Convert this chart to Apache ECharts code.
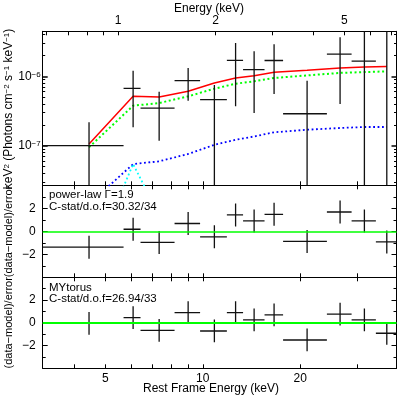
<!DOCTYPE html>
<html>
<head>
<meta charset="utf-8">
<script src="https://cdn.jsdelivr.net/npm/echarts@6/dist/echarts.min.js"></script>
<style>
  html, body { margin: 0; padding: 0; background: #fff; }
  #chart { width: 400px; height: 396px; }
</style>
</head>
<body>
<div id="chart"></div>
<script>
// rest frame energy bins (keV)
const binCen = [4.45, 6.09, 7.33, 9.01, 10.86, 12.63, 14.41, 16.61, 21.01, 26.57, 31.59, 37.05]
const binLo  = [3.2, 5.69, 6.42, 8.18, 9.81, 11.87, 13.32, 15.52, 17.71, 24.19, 28.84, 34.28]
const binHi  = [5.69, 6.42, 8.18, 9.81, 11.87, 13.32, 15.52, 17.71, 24.19, 28.84, 34.28, 39.7]

// unfolded spectrum, keV^2 (Photons cm^-2 s^-1 keV^-1)
const flux   = [1.0e-7, 6.71e-7, 3.49e-7, 8.65e-7, 4.6e-7, 1.70e-6, 1.25e-6, 1.69e-6, 2.89e-7, 2.09e-6, 1.66e-6, 6e-6]
const fluxLo = [1e-9, 1.84e-7, 1.18e-7, 4.45e-7, 1e-9, 3.7e-7, 2.96e-7, 5.56e-7, 1e-9, 3.99e-7, 1e-9, 1e-9]
const fluxHi = [2.17e-7, 1.2e-6, 6.0e-7, 1.32e-6, 7.5e-7, 3.02e-6, 2.29e-6, 2.89e-6, 8.64e-7, 3.65e-6, 1e-5, 1e-4]

// model components at bin centres
const modelTotal = [1.06e-7, 5.15e-7, 5.03e-7, 6.08e-7, 8.0e-7, 9.45e-7, 1.02e-6, 1.14e-6, 1.22e-6, 1.32e-6, 1.36e-6, 1.39e-6]
const modelPow   = [9.5e-8, 3.77e-7, 4.12e-7, 5.15e-7, 6.63e-7, 7.82e-7, 8.47e-7, 9.45e-7, 1.03e-6, 1.12e-6, 1.15e-6, 1.18e-6]
const modelScat  = [1.45e-8, 5.44e-8, 5.96e-8, 7.6e-8, 1.03e-7, 1.22e-7, 1.36e-7, 1.56e-7, 1.70e-7, 1.80e-7, 1.86e-7, 1.86e-7]
const modelLine  = [1.7e-9, 5.44e-8, 1.0e-8]

// residuals (data-model)/error
const resPow = [-1.38, 0.18, -0.97, 0.68, -0.48, 1.42, 0.9, 1.48, -0.88, 1.68, 0.9, -0.92]
const resMyt = [-0.05, 0.45, -0.66, 0.89, -0.72, 0.89, 0.25, 0.69, -1.51, 0.77, 0.25, -0.92]
const resErr = [1, 1, 1, 1, 1, 1, 1, 1, 1, 1, 1, 1]

// axes
const zFactor = 5.473
const xMin = 3.2, xMax = 39.7
const yMin = 2.69e-8, yMax = 4.45e-6
const restTicks = [4, 5, 6, 7, 8, 9, 10, 20, 30]
const restLabels = [5, 10, 20]
const obsTicks = [0.6, 0.7, 0.8, 0.9, 1, 2, 3, 4, 5, 6, 7]
const obsLabels = [1, 2, 5]
const fluxMajor = [1e-7, 1e-6]
const fluxMinor = [3e-8, 4e-8, 5e-8, 6e-8, 7e-8, 8e-8, 9e-8,
  2e-7, 3e-7, 4e-7, 5e-7, 6e-7, 7e-7, 8e-7, 9e-7, 2e-6, 3e-6, 4e-6]

const font = 'Liberation Sans, Arial, Helvetica, sans-serif'
const black = '#000'

const chart = echarts.init(document.getElementById('chart'))

// cross shaped error bar, clipped to the panel
function crossItem(params, api) {
  const cs = params.coordSys
  const cx = v => Math.max(cs.x, Math.min(cs.x + cs.width, v))
  const cy = v => Math.max(cs.y, Math.min(cs.y + cs.height, v))
  const c = api.coord([api.value(0), api.value(1)])
  const l = api.coord([api.value(2), api.value(1)])
  const r = api.coord([api.value(3), api.value(1)])
  const lo = api.coord([api.value(0), api.value(4)])
  const hi = api.coord([api.value(0), api.value(5)])
  const style = { stroke: '#111', lineWidth: 1.3 }
  const children = []
  if (c[1] >= cs.y && c[1] <= cs.y + cs.height) {
    children.push({ type: 'line', shape: { x1: cx(l[0]), y1: c[1], x2: cx(r[0]), y2: c[1] }, style })
  }
  children.push({ type: 'line', shape: { x1: c[0], y1: cy(hi[1]), x2: c[0], y2: cy(lo[1]) }, style })
  return { type: 'group', children }
}

const fluxData = binCen.map((e, i) => [e, flux[i], binLo[i], binHi[i], fluxLo[i], fluxHi[i]])
const resData = res => binCen.map((e, i) => [e, res[i], binLo[i], binHi[i], res[i] - resErr[i], res[i] + resErr[i]])
const curve = arr => arr.map((v, i) => [binCen[i], v])

const tickStyle = { lineStyle: { color: black, width: 1 } }
const lineStyle = { show: true, onZero: false, lineStyle: { color: black, width: 1 } }
const labelStyle = { color: black, fontFamily: font, fontSize: 12 }
const supRich = {
  t: { fontFamily: font, fontSize: 12, color: black },
  s: { fontFamily: font, fontSize: 8, color: black, verticalAlign: 'top', lineHeight: 9 }
}

function restAxis(grid, position, withLabels) {
  return {
    type: 'log', gridIndex: grid, position, min: xMin, max: xMax,
    axisLine: lineStyle,
    axisTick: { inside: true, length: 4, customValues: restTicks, ...tickStyle },
    axisLabel: withLabels
      ? { ...labelStyle, margin: 4, customValues: restLabels, formatter: v => String(v) }
      : { show: false },
    splitLine: { show: false }
  }
}

function fluxAxis(position, major) {
  return {
    type: 'log', gridIndex: 0, position, min: yMin, max: yMax,
    axisLine: major ? lineStyle : { show: false },
    axisTick: major
      ? { inside: true, length: 5, customValues: fluxMajor, lineStyle: { color: black, width: 1.5 } }
      : { inside: true, length: 2.5, customValues: fluxMinor, ...tickStyle },
    axisLabel: { show: false },
    splitLine: { show: false }
  }
}

function resAxis(grid, position, withLabels) {
  return {
    type: 'value', gridIndex: grid, position, min: -4, max: 4, interval: 2,
    axisLine: lineStyle,
    axisTick: { inside: true, length: 5, ...tickStyle },
    minorTick: { show: true, splitNumber: 2, length: 3, lineStyle: { color: black } },
    axisLabel: withLabels
      ? { ...labelStyle, margin: 7, showMinLabel: false, showMaxLabel: false,
          formatter: v => (v < 0 ? '\u2212' + (-v) : String(v)) }
      : { show: false },
    splitLine: { show: false }
  }
}

const topFluxLeft = fluxAxis('left', true)
topFluxLeft.axisLabel = {
  ...labelStyle, margin: 2, customValues: fluxMajor,
  formatter: v => '{t|10}{s|' + String(Math.round(Math.log10(v))).replace('-', '\u2212') + '}',
  rich: supRich
}

// axis titles
function title(text, x, y, vertical, size, rich) {
  return {
    type: 'text', x, y, rotation: vertical ? Math.PI / 2 : 0,
    style: { text, fontFamily: font, fontSize: size, fill: black, align: 'center', verticalAlign: 'middle', rich }
  }
}
function note(text, y) {
  return { type: 'text', x: 49, y, style: { text, fontFamily: font, fontSize: 11.5, fill: black, verticalAlign: 'middle' } }
}

const option = {
  animation: false,
  backgroundColor: '#fff',
  grid: [
    { left: 42.7, right: 3.5, top: 31.3, height: 154, outerBoundsMode: 'none' },
    { left: 42.7, right: 3.5, top: 185.3, height: 92, outerBoundsMode: 'none' },
    { left: 42.7, right: 3.5, top: 277.3, height: 91, outerBoundsMode: 'none' }
  ],
  xAxis: [
    restAxis(0, 'bottom', false),
    {
      type: 'log', gridIndex: 0, position: 'top', min: xMin / zFactor, max: xMax / zFactor,
      axisLine: lineStyle,
      axisTick: { inside: true, length: 4, customValues: obsTicks, ...tickStyle },
      axisLabel: { ...labelStyle, margin: 5, customValues: obsLabels, formatter: v => String(v) },
      splitLine: { show: false }
    },
    restAxis(1, 'bottom', false),
    restAxis(1, 'top', false),
    restAxis(2, 'bottom', true),
    restAxis(2, 'top', false)
  ],
  yAxis: [
    topFluxLeft,
    fluxAxis('left', false),
    fluxAxis('right', true),
    fluxAxis('right', false),
    resAxis(1, 'left', true),
    resAxis(1, 'right', false),
    resAxis(2, 'left', true),
    resAxis(2, 'right', false)
  ],
  graphic: [
    title('Energy (keV)', 209, 8.5, false, 12),
    title('Rest Frame Energy (keV)', 211, 389, false, 12),
    title('{t|keV}{s|2}{t| (Photons cm}{s|\u22122}{t| s}{s|\u22121}{t| keV}{s|\u22121}{t|)}', 9, 109, true, 12, supRich),
    title('(data\u2212model)/error', 9, 231.5, true, 11),
    title('(data\u2212model)/error', 9, 322.8, true, 11),
    note('power-law \u0393=1.9', 195),
    note('C-stat/d.o.f=30.32/34', 207),
    note('MYtorus', 287.5),
    note('C-stat/d.o.f=26.94/33', 299)
  ],
  series: [
    {
      type: 'line', xAxisIndex: 0, yAxisIndex: 0, data: curve(modelScat), showSymbol: false,
      lineStyle: { color: '#0000ff', width: 1.8, type: [1.8, 2.6] }, z: 2
    },
    {
      type: 'line', xAxisIndex: 0, yAxisIndex: 0, data: curve(modelLine), showSymbol: false,
      lineStyle: { color: '#00ffff', width: 1.8, type: [1.8, 2.6] }, z: 2
    },
    {
      type: 'line', xAxisIndex: 0, yAxisIndex: 0, data: curve(modelPow), showSymbol: false,
      lineStyle: { color: '#00ff00', width: 2, type: [2, 2.6] }, z: 2
    },
    {
      type: 'line', xAxisIndex: 0, yAxisIndex: 0, data: curve(modelTotal), showSymbol: false,
      lineStyle: { color: '#ff0000', width: 1.5 }, z: 3
    },
    {
      type: 'custom', xAxisIndex: 0, yAxisIndex: 0, data: fluxData, renderItem: crossItem,
      encode: { x: 0, y: 1 }, clip: true, z: 4
    },
    {
      type: 'custom', xAxisIndex: 2, yAxisIndex: 4, data: resData(resPow), renderItem: crossItem,
      encode: { x: 0, y: 1 }, clip: true, z: 4,
      markLine: {
        silent: true, symbol: 'none', label: { show: false },
        lineStyle: { color: '#00ff00', width: 1.5, type: 'solid', opacity: 1 },
        emphasis: { disabled: true },
        data: [{ yAxis: 0 }]
      }
    },
    {
      type: 'custom', xAxisIndex: 4, yAxisIndex: 6, data: resData(resMyt), renderItem: crossItem,
      encode: { x: 0, y: 1 }, clip: true, z: 4,
      markLine: {
        silent: true, symbol: 'none', label: { show: false },
        lineStyle: { color: '#00ff00', width: 2.2, type: 'solid', opacity: 1 },
        emphasis: { disabled: true },
        data: [{ yAxis: 0 }]
      }
    }
  ]
}

chart.setOption(option)
</script>
</body>
</html>
